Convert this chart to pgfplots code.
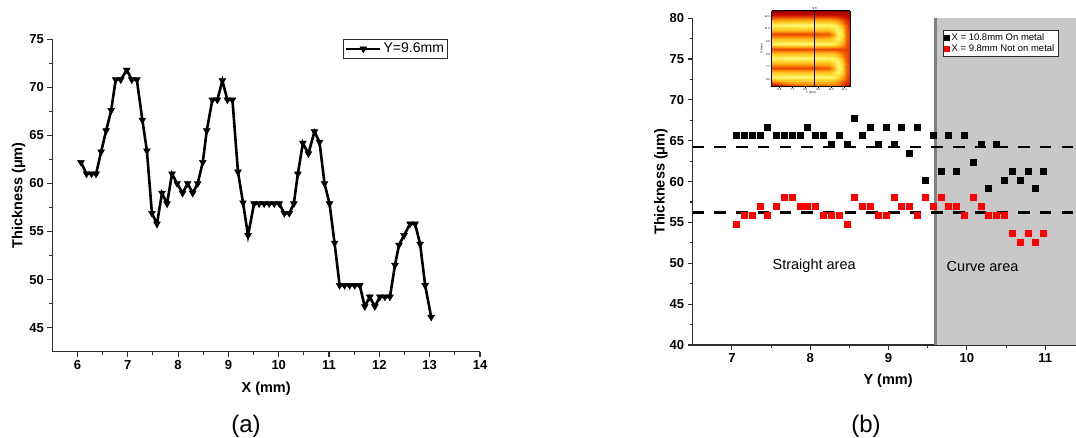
\documentclass[border=0pt]{standalone}
\usepackage{fontspec}
\setmainfont{Liberation Sans}
\usepackage{pgfplots}
\pgfplotsset{compat=1.18}
\usepackage{pgfplotstable}
\definecolor{areagray}{RGB}{200,200,200}
\definecolor{edgegray}{RGB}{128,128,128}
\definecolor{axgray}{RGB}{45,45,45}

\pgfplotstableread{
x y
6.07 62.2
6.18 61.0
6.28 61.0
6.37 61.0
6.47 63.3
6.57 65.5
6.67 67.6
6.76 70.8
6.86 70.8
6.98 71.8
7.08 70.8
7.18 70.8
7.29 66.6
7.38 63.4
7.48 56.9
7.58 55.8
7.68 59.0
7.78 57.9
7.88 61.0
7.98 60.0
8.09 59.0
8.19 60.0
8.29 59.0
8.39 60.0
8.49 62.2
8.57 65.5
8.68 68.7
8.78 68.7
8.88 70.7
8.98 68.7
9.08 68.7
9.19 61.2
9.29 58.0
9.39 54.6
9.51 57.9
9.61 57.9
9.71 57.9
9.81 57.9
9.91 57.9
10.01 57.9
10.11 56.9
10.21 56.9
10.30 57.9
10.38 61.0
10.48 64.2
10.59 63.1
10.71 65.4
10.81 64.3
10.91 60.0
11.01 57.9
11.11 53.8
11.21 49.4
11.31 49.4
11.41 49.4
11.51 49.4
11.61 49.4
11.71 47.2
11.81 48.2
11.91 47.2
12.01 48.2
12.11 48.2
12.21 48.2
12.31 51.5
12.39 53.6
12.49 54.6
12.61 55.8
12.71 55.8
12.81 53.7
12.91 49.4
13.03 46.1
}\leftdata

\pgfplotstableread{
x on off
7.06 65.6 54.8
7.16 65.6 55.8
7.26 65.6 55.8
7.36 65.6 56.9
7.46 66.6 55.8
7.57 65.6 56.9
7.67 65.6 58.0
7.77 65.6 58.0
7.87 65.6 56.9
7.97 66.6 56.9
8.07 65.6 56.9
8.17 65.6 55.8
8.27 64.5 55.8
8.37 65.6 55.8
8.47 64.5 54.8
8.57 67.7 58.0
8.67 65.6 56.9
8.77 66.6 56.9
8.87 64.5 55.8
8.97 66.6 55.8
9.07 64.5 58.0
9.17 66.6 56.9
9.27 63.4 56.9
9.37 66.6 55.8
9.47 60.1 58.0
9.57 65.6 56.9
9.67 61.2 58.0
9.77 65.6 56.9
9.87 61.2 56.9
9.97 65.6 55.8
10.08 62.3 58.0
10.18 64.5 56.9
10.28 59.1 55.8
10.38 64.5 55.8
10.48 60.1 55.8
10.58 61.2 53.7
10.68 60.1 52.6
10.78 61.2 53.7
10.88 59.1 52.6
10.98 61.2 53.7
}\rightdata

\pgfplotstableread{
x y c
5.95 12.60 0.08
7.50 12.60 0.10
9.50 12.60 0.10
10.80 12.60 0.10
11.20 12.60 0.10
11.60 12.60 0.10
11.95 12.60 0.10
12.30 12.60 0.10
12.60 12.60 0.08
5.95 12.18 0.30
7.50 12.18 0.32
9.50 12.18 0.32
10.80 12.18 0.32
11.20 12.18 0.32
11.60 12.18 0.30
11.95 12.18 0.28
12.30 12.18 0.25
12.60 12.18 0.15
5.95 11.77 0.65
7.50 11.77 0.68
9.50 11.77 0.68
10.80 11.77 0.68
11.20 11.77 0.65
11.60 11.77 0.60
11.95 11.77 0.50
12.30 11.77 0.40
12.60 11.77 0.30
5.95 11.35 0.95
7.50 11.35 0.97
9.50 11.35 0.97
10.80 11.35 0.95
11.20 11.35 0.93
11.60 11.35 0.85
11.95 11.35 0.70
12.30 11.35 0.50
12.60 11.35 0.35
5.95 10.94 0.75
7.50 10.94 0.75
9.50 10.94 0.75
10.80 10.94 0.75
11.20 10.94 0.85
11.60 10.94 0.95
11.95 10.94 0.85
12.30 10.94 0.55
12.60 10.94 0.38
5.95 10.52 0.45
7.50 10.52 0.45
9.50 10.52 0.45
10.80 10.52 0.50
11.20 10.52 0.70
11.60 10.52 0.95
11.95 10.52 0.90
12.30 10.52 0.55
12.60 10.52 0.40
5.95 10.11 0.75
7.50 10.11 0.75
9.50 10.11 0.75
10.80 10.11 0.75
11.20 10.11 0.85
11.60 10.11 0.95
11.95 10.11 0.85
12.30 10.11 0.55
12.60 10.11 0.40
5.95 9.69 0.95
7.50 9.69 0.97
9.50 9.69 0.97
10.80 9.69 0.95
11.20 9.69 0.93
11.60 9.69 0.85
11.95 9.69 0.70
12.30 9.69 0.50
12.60 9.69 0.40
5.95 9.28 0.45
7.50 9.28 0.45
9.50 9.28 0.45
10.80 9.28 0.45
11.20 9.28 0.45
11.60 9.28 0.45
11.95 9.28 0.45
12.30 9.28 0.45
12.60 9.28 0.40
5.95 8.86 0.72
7.50 8.86 0.72
9.50 8.86 0.72
10.80 8.86 0.72
11.20 8.86 0.72
11.60 8.86 0.65
11.95 8.86 0.55
12.30 8.86 0.48
12.60 8.86 0.40
5.95 8.44 0.95
7.50 8.44 0.97
9.50 8.44 0.97
10.80 8.44 0.95
11.20 8.44 0.93
11.60 8.44 0.85
11.95 8.44 0.70
12.30 8.44 0.50
12.60 8.44 0.40
5.95 8.03 0.75
7.50 8.03 0.75
9.50 8.03 0.75
10.80 8.03 0.75
11.20 8.03 0.85
11.60 8.03 0.95
11.95 8.03 0.85
12.30 8.03 0.55
12.60 8.03 0.40
5.95 7.61 0.45
7.50 7.61 0.45
9.50 7.61 0.45
10.80 7.61 0.50
11.20 7.61 0.70
11.60 7.61 0.95
11.95 7.61 0.90
12.30 7.61 0.55
12.60 7.61 0.40
5.95 7.20 0.75
7.50 7.20 0.75
9.50 7.20 0.75
10.80 7.20 0.75
11.20 7.20 0.85
11.60 7.20 0.95
11.95 7.20 0.85
12.30 7.20 0.55
12.60 7.20 0.40
5.95 6.78 0.95
7.50 6.78 0.97
9.50 6.78 0.97
10.80 6.78 0.95
11.20 6.78 0.93
11.60 6.78 0.85
11.95 6.78 0.70
12.30 6.78 0.50
12.60 6.78 0.38
5.95 6.37 0.55
7.50 6.37 0.70
9.50 6.37 0.72
10.80 6.37 0.72
11.20 6.37 0.70
11.60 6.37 0.62
11.95 6.37 0.52
12.30 6.37 0.42
12.60 6.37 0.32
5.95 5.95 0.05
7.50 5.95 0.35
9.50 5.95 0.50
10.80 5.95 0.50
11.20 5.95 0.48
11.60 5.95 0.45
11.95 5.95 0.40
12.30 5.95 0.30
12.60 5.95 0.20
}\insetdata

\pgfplotsset{
  myaxis/.style={
    scale only axis,
    axis x line*=bottom, axis y line*=left,
    axis line style={line width=1.2pt, color=axgray},
    tick align=outside,
    major tick length=5pt, minor tick length=3pt,
    every tick/.style={line width=1.1pt, color=axgray},
    /pgf/number format/assume math mode=true,
    tick label style={font=\fontsize{13}{13}\selectfont\bfseries},
    clip=false,
  }
}

\begin{document}
\begin{tikzpicture}
\useasboundingbox (0pt,0pt) rectangle (1076pt,438pt);

% ---------------- panel (a)
\begin{axis}[myaxis,
  at={(52.3pt,86.3pt)}, anchor=south west,
  width=427.7pt, height=312.4pt,
  xmin=5.5, xmax=14, ymin=42.5, ymax=75,
  xtick={6,7,...,14}, ytick={45,50,...,75},
  minor x tick num=1, minor y tick num=1,
  xlabel={X (mm)}, ylabel={Thickness (μm)},
  every axis x label/.style={at={(axis description cs:0.5,-0.119)}, anchor=center,
    font=\fontsize{14.5}{15}\selectfont\bfseries},
  every axis y label/.style={at={(axis description cs:-0.079,0.5)}, rotate=90, anchor=center,
    font=\fontsize{14.5}{15}\selectfont\bfseries},
  legend style={at={(0.68,1.0)}, anchor=north west, draw=axgray, line width=0.8pt,
    font=\fontsize{14}{14}\selectfont, inner sep=1.5pt},
  legend image code/.code={\draw[#1, mark repeat=2, mark phase=2] plot coordinates {(0pt,0pt)(17pt,0pt)(34pt,0pt)};},
]
\addplot[black, line width=2.6pt, mark=triangle*, mark size=3.9pt,
  mark options={rotate=180, line width=0.5pt, fill=black}] table[x=x,y=y] \leftdata;
\addlegendentry{Y=9.6mm}
\end{axis}

% ---------------- panel (b)
\begin{axis}[myaxis,
  at={(692.7pt,93pt)}, anchor=south west,
  width=383.9pt, height=326.8pt,
  xmin=6.5, xmax=11.4, ymin=40, ymax=80,
  xtick={7,8,...,11}, ytick={40,45,...,80},
  minor x tick num=1, minor y tick num=1,
  xlabel={Y (mm)}, ylabel={Thickness (μm)},
  every axis x label/.style={at={(axis description cs:0.509,-0.110)}, anchor=center,
    font=\fontsize{14.5}{15}\selectfont\bfseries},
  every axis y label/.style={at={(axis description cs:-0.0826,0.5)}, rotate=90, anchor=center,
    font=\fontsize{14.5}{15}\selectfont\bfseries},
  legend style={at={(0.651,0.964)}, anchor=north west, draw=axgray, line width=0.6pt,
    font=\fontsize{9.5}{10}\selectfont, inner sep=1.5pt, row sep=-1.5pt, fill=white,
    cells={anchor=west}},
  legend image code/.code={\draw[#1, only marks, mark size=2.6pt] plot coordinates {(9pt,0pt)};},
]
\addplot[draw=none, fill=areagray, forget plot] coordinates {(9.6,40) (11.4,40) (11.4,80) (9.6,80)} -- cycle;
\addplot[edgegray, line width=2.6pt, forget plot] coordinates {(9.6,40) (9.6,80)};
\addplot[black, line width=2.4pt, dash pattern=on 11.5pt off 10.2pt, forget plot] coordinates {(6.5,64.2) (11.4,64.2)};
\addplot[black, line width=2.4pt, dash pattern=on 11.5pt off 10.2pt, forget plot] coordinates {(6.5,56.2) (11.4,56.2)};
\addplot[only marks, mark=square*, mark size=3pt, mark options={draw=black, fill=black, line width=0pt}] table[x=x,y=on] \rightdata;
\addlegendentry{X = 10.8mm On metal}
\addplot[only marks, mark=square*, mark size=3pt, mark options={draw=red, fill=red, line width=0pt}] table[x=x,y=off] \rightdata;
\addlegendentry{X = 9.8mm Not on metal}
\node[font=\fontsize{14.5}{15}\selectfont] at (axis cs:8.05,49.67) {Straight area};
\node[font=\fontsize{14.5}{15}\selectfont] at (axis cs:10.2,49.55) {Curve area};
\end{axis}

% ---------------- inset
\begin{axis}[
  at={(771.7pt,351.3pt)}, anchor=south west, scale only axis,
  width=78.3pt, height=76pt, view={0}{90},
  xmin=5.95, xmax=12.6, ymin=5.95, ymax=12.6,
  colormap={heat}{rgb255(0pt)=(120,0,0) rgb255(3pt)=(205,10,0) rgb255(5pt)=(240,90,0) rgb255(7pt)=(255,175,20) rgb255(9pt)=(255,235,70) rgb255(10pt)=(255,250,160)},
  point meta min=0, point meta max=1,
  xtick={6.6,7.7,8.8,9.9,11.0,12.1}, xticklabels={6.6,7.7,8.8,9.9,11.0,12.1},
  ytick={6.6,7.7,8.8,9.9,11.0,12.1}, yticklabels={6.6,7.7,8.8,9.9,11.0,12.1},
  ztick=\empty, minor tick num=0,
  tick align=outside, major tick length=1pt,
  tick label style={font=\fontsize{2.8}{3}\selectfont, inner sep=0.5pt},
  xlabel={Y (mm)}, ylabel={X (mm)},
  label style={font=\fontsize{3}{3}\selectfont, inner sep=0.5pt},
  axis line style={line width=0.6pt, black},
  every tick/.style={line width=0.3pt, black},
  clip=false,
]
\addplot3[surf, shader=interp, mesh/cols=9] table[x=x,y=y,z=c] \insetdata;
\addplot3[black, line width=1.1pt] coordinates {(9.6,5.95,1) (9.6,12.6,1)};
\node[font=\fontsize{3}{3}\selectfont, above, inner sep=0.5pt] at (axis cs:9.6,12.6,1) {9.6};
\end{axis}

\node[font=\fontsize{24}{24}\selectfont] at (246pt,12pt) {(a)};
\node[font=\fontsize{24}{24}\selectfont] at (866pt,12pt) {(b)};
\end{tikzpicture}
\end{document}
